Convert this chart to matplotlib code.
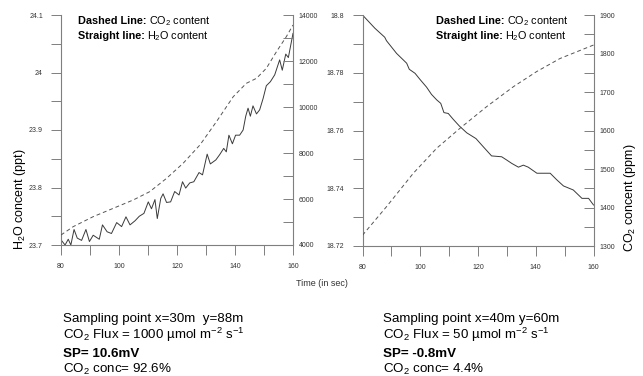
import matplotlib
matplotlib.use("Agg")
import matplotlib.pyplot as plt
from matplotlib.ticker import MultipleLocator
from matplotlib.transforms import offset_copy

plt.rcParams['font.family'] = ['Liberation Sans', 'DejaVu Sans']
plt.rcParams['mathtext.fontset'] = 'custom'
plt.rcParams['mathtext.rm'] = 'Liberation Sans'
plt.rcParams['mathtext.it'] = 'Liberation Sans:italic'
plt.rcParams['mathtext.bf'] = 'Liberation Sans:bold'

# ---------------- data: left chart ----------------
t_h2o_left = [80, 81.4, 82.5, 83.4, 84.5, 85.6, 87.1, 88.6, 89.8, 91.1,
              93.2, 94.3, 95.9, 97.4, 99.2, 100.9, 102.4, 103.8, 105.5, 107,
              108.6, 110.1, 111.2, 112.4, 113.2, 114.4, 115.2, 116.4, 117.8, 119.2,
              120.7, 121.9, 123, 124.4, 125.8, 127.6, 128.8, 130.4, 131.5, 133.4,
              134.7, 136.1, 137, 137.9, 139.1, 140.2, 141.6, 142.8, 143.7, 144.5,
              145.3, 146.2, 147.4, 148.5, 149.7, 150.8, 152.2, 153.7, 155.4, 156.3,
              157.5, 158.4, 160]
h2o_left = [23.709, 23.700, 23.710, 23.700, 23.727, 23.712, 23.708, 23.727, 23.706, 23.717,
            23.710, 23.735, 23.723, 23.720, 23.739, 23.732, 23.749, 23.735, 23.742, 23.750,
            23.755, 23.775, 23.763, 23.779, 23.746, 23.781, 23.789, 23.774, 23.775, 23.793,
            23.787, 23.810, 23.799, 23.808, 23.810, 23.826, 23.822, 23.858, 23.841, 23.848,
            23.857, 23.868, 23.862, 23.891, 23.876, 23.891, 23.891, 23.900, 23.924, 23.938,
            23.924, 23.942, 23.928, 23.935, 23.955, 23.977, 23.984, 23.996, 24.022, 24.004,
            24.032, 24.026, 24.068]
t_co2_left = [80, 84.2, 91.1, 98, 104.9, 110.6, 116.4, 122.1, 127.9, 133.6,
              139.4, 143.9, 147.4, 150.8, 154.3, 157.7, 160]
co2_left = [4435, 4797, 5232, 5594, 5957, 6319, 6899, 7551, 8348, 9362,
            10449, 11029, 11246, 11681, 12406, 13058, 13565]

# ---------------- data: right chart ----------------
t_h2o_right = [80, 84.3, 87.7, 88.3, 91.8, 95.3, 96.2, 98.2, 99.9, 102.2,
               103.9, 105.7, 107.1, 108.2, 109.7, 111.4, 113.5, 116.1, 119.3, 121.8,
               124.7, 128.2, 129.9, 131.7, 134.0, 135.7, 137.4, 140.4, 145.0, 147.3,
               149.6, 153.0, 156.0, 158.3, 160]
h2o_right = [18.8000, 18.7954, 18.7923, 18.7911, 18.7867, 18.7833, 18.7812, 18.7798, 18.7777, 18.7750,
             18.7725, 18.7706, 18.7694, 18.7662, 18.7659, 18.7639, 18.7616, 18.7592, 18.7572, 18.7544,
             18.7512, 18.7509, 18.7498, 18.7486, 18.7473, 18.7480, 18.7473, 18.7452, 18.7452, 18.7429,
             18.7408, 18.7394, 18.7365, 18.7365, 18.7342]
t_co2_right = [80, 88.3, 97.6, 105.7, 113.8, 123, 132.3, 140.3, 148.4, 160]
co2_right = [1328, 1402, 1489, 1554, 1606, 1662, 1714, 1753, 1787, 1822]

legend_bold = ["Dashed Line:", "Straight line:"]
legend_rest = [r"CO$_2$ content", r"H$_2$O content"]

x_ticks_major = 20
x_ticks_minor = 10

W, H = 643, 376
fig = plt.figure(figsize=(W / 100, H / 100), dpi=100)
renderer = fig.canvas.get_renderer()

SPINE = '#7f7f7f'
TXT = '#333333'


def fmt(v, pos):
    return ('%.2f' % v).rstrip('0').rstrip('.')


def setup(ax, ax2, xlim, ylim, y2lim, ymaj, ymin, y2maj, y2min):
    for a in (ax, ax2):
        a.spines['top'].set_visible(False)
        for s in a.spines.values():
            s.set_color(SPINE)
            s.set_linewidth(0.8)
        a.set_facecolor('none')
    ax.spines['right'].set_visible(False)
    ax2.spines['left'].set_visible(False)
    ax2.spines['bottom'].set_visible(False)
    ax.set_xlim(*xlim)
    ax.set_ylim(*ylim)
    ax2.set_ylim(*y2lim)
    ax.xaxis.set_major_locator(MultipleLocator(x_ticks_major))
    ax.xaxis.set_minor_locator(MultipleLocator(x_ticks_minor))
    ax.yaxis.set_major_locator(MultipleLocator(ymaj))
    ax.yaxis.set_minor_locator(MultipleLocator(ymin))
    ax2.yaxis.set_major_locator(MultipleLocator(y2maj))
    ax2.yaxis.set_minor_locator(MultipleLocator(y2min))
    ax.yaxis.set_major_formatter(plt.FuncFormatter(fmt))
    ax.tick_params(axis='both', which='both', direction='out', colors=SPINE,
                   labelcolor=TXT, labelsize=5, width=0.7)
    ax.tick_params(axis='both', which='major', length=7, pad=6)
    ax.tick_params(axis='both', which='minor', length=7)
    ax2.tick_params(axis='y', which='both', direction='in', colors=SPINE,
                    labelcolor=TXT, labelsize=5, width=0.7, length=7, pad=4)


def legend(x0, y_px_list):
    for b, r, ypx in zip(legend_bold, legend_rest, y_px_list):
        xf, yf = x0 / W, 1 - ypx / H
        tb = fig.text(xf, yf, b, fontsize=7.8, fontweight='bold', va='baseline',
                      ha='left', color='black')
        wpx = tb.get_window_extent(renderer).width
        tr = offset_copy(fig.transFigure, fig=fig, x=(wpx + 2.5) * 72 / 100, y=0,
                         units='points')
        fig.text(xf, yf, r, fontsize=7.8, va='baseline', ha='left', color='black',
                 transform=tr)


# -------- left chart --------
axL = fig.add_axes([61 / W, 1 - 245 / H, 232 / W, 230 / H])
axL2 = axL.twinx()
setup(axL, axL2, (80, 160), (23.7, 24.1), (4000, 14000), 0.1, 0.05, 2000, 1000)
axL.plot(t_h2o_left, h2o_left, color='#3a3a3a', lw=0.7)
axL2.plot(t_co2_left, co2_left, color='#555555', lw=0.7, dashes=(4, 3))
legend(78, [24, 39])

# -------- right chart --------
axR = fig.add_axes([362.5 / W, 1 - 246 / H, 231 / W, 231 / H])
axR2 = axR.twinx()
setup(axR, axR2, (80, 160), (18.72, 18.80), (1300, 1900), 0.02, 0.01, 100, 50)
axR.plot(t_h2o_right, h2o_right, color='#3a3a3a', lw=0.7)
axR2.plot(t_co2_right, co2_right, color='#555555', lw=0.7, dashes=(4, 3))
legend(436, [24, 39])

# -------- axis labels --------
fig.text(20 / W, 1 - 199 / H, r"H$_2$O concent (ppt)", rotation=90, fontsize=9,
         ha='center', va='center', color='black')
fig.text(630 / W, 1 - 198 / H, r"CO$_2$ concent (ppm)", rotation=90, fontsize=9,
         ha='center', va='center', color='black')
fig.text(322 / W, 1 - 283 / H, "Time (in sec)", fontsize=6.5, ha='center', va='center',
         color=TXT)

# -------- bottom text blocks --------
left_lines = ["Sampling point x=30m  y=88m",
              r"CO$_2$ Flux = 1000 µmol m$^{-2}$ s$^{-1}$",
              "SP= 10.6mV",
              r"CO$_2$ conc= 92.6%"]
right_lines = ["Sampling point x=40m y=60m",
               r"CO$_2$ Flux = 50 µmol m$^{-2}$ s$^{-1}$",
               "SP= -0.8mV",
               r"CO$_2$ conc= 4.4%"]
ys = [322, 339.5, 357, 373]
for x0, lines in ((63, left_lines), (383, right_lines)):
    for i, (y, s) in enumerate(zip(ys, lines)):
        fig.text(x0 / W, 1 - y / H, s, fontsize=9.6, ha='left', va='baseline',
                 fontweight='bold' if i == 2 else 'normal', color='black')

fig.savefig("out.png", dpi=100)
